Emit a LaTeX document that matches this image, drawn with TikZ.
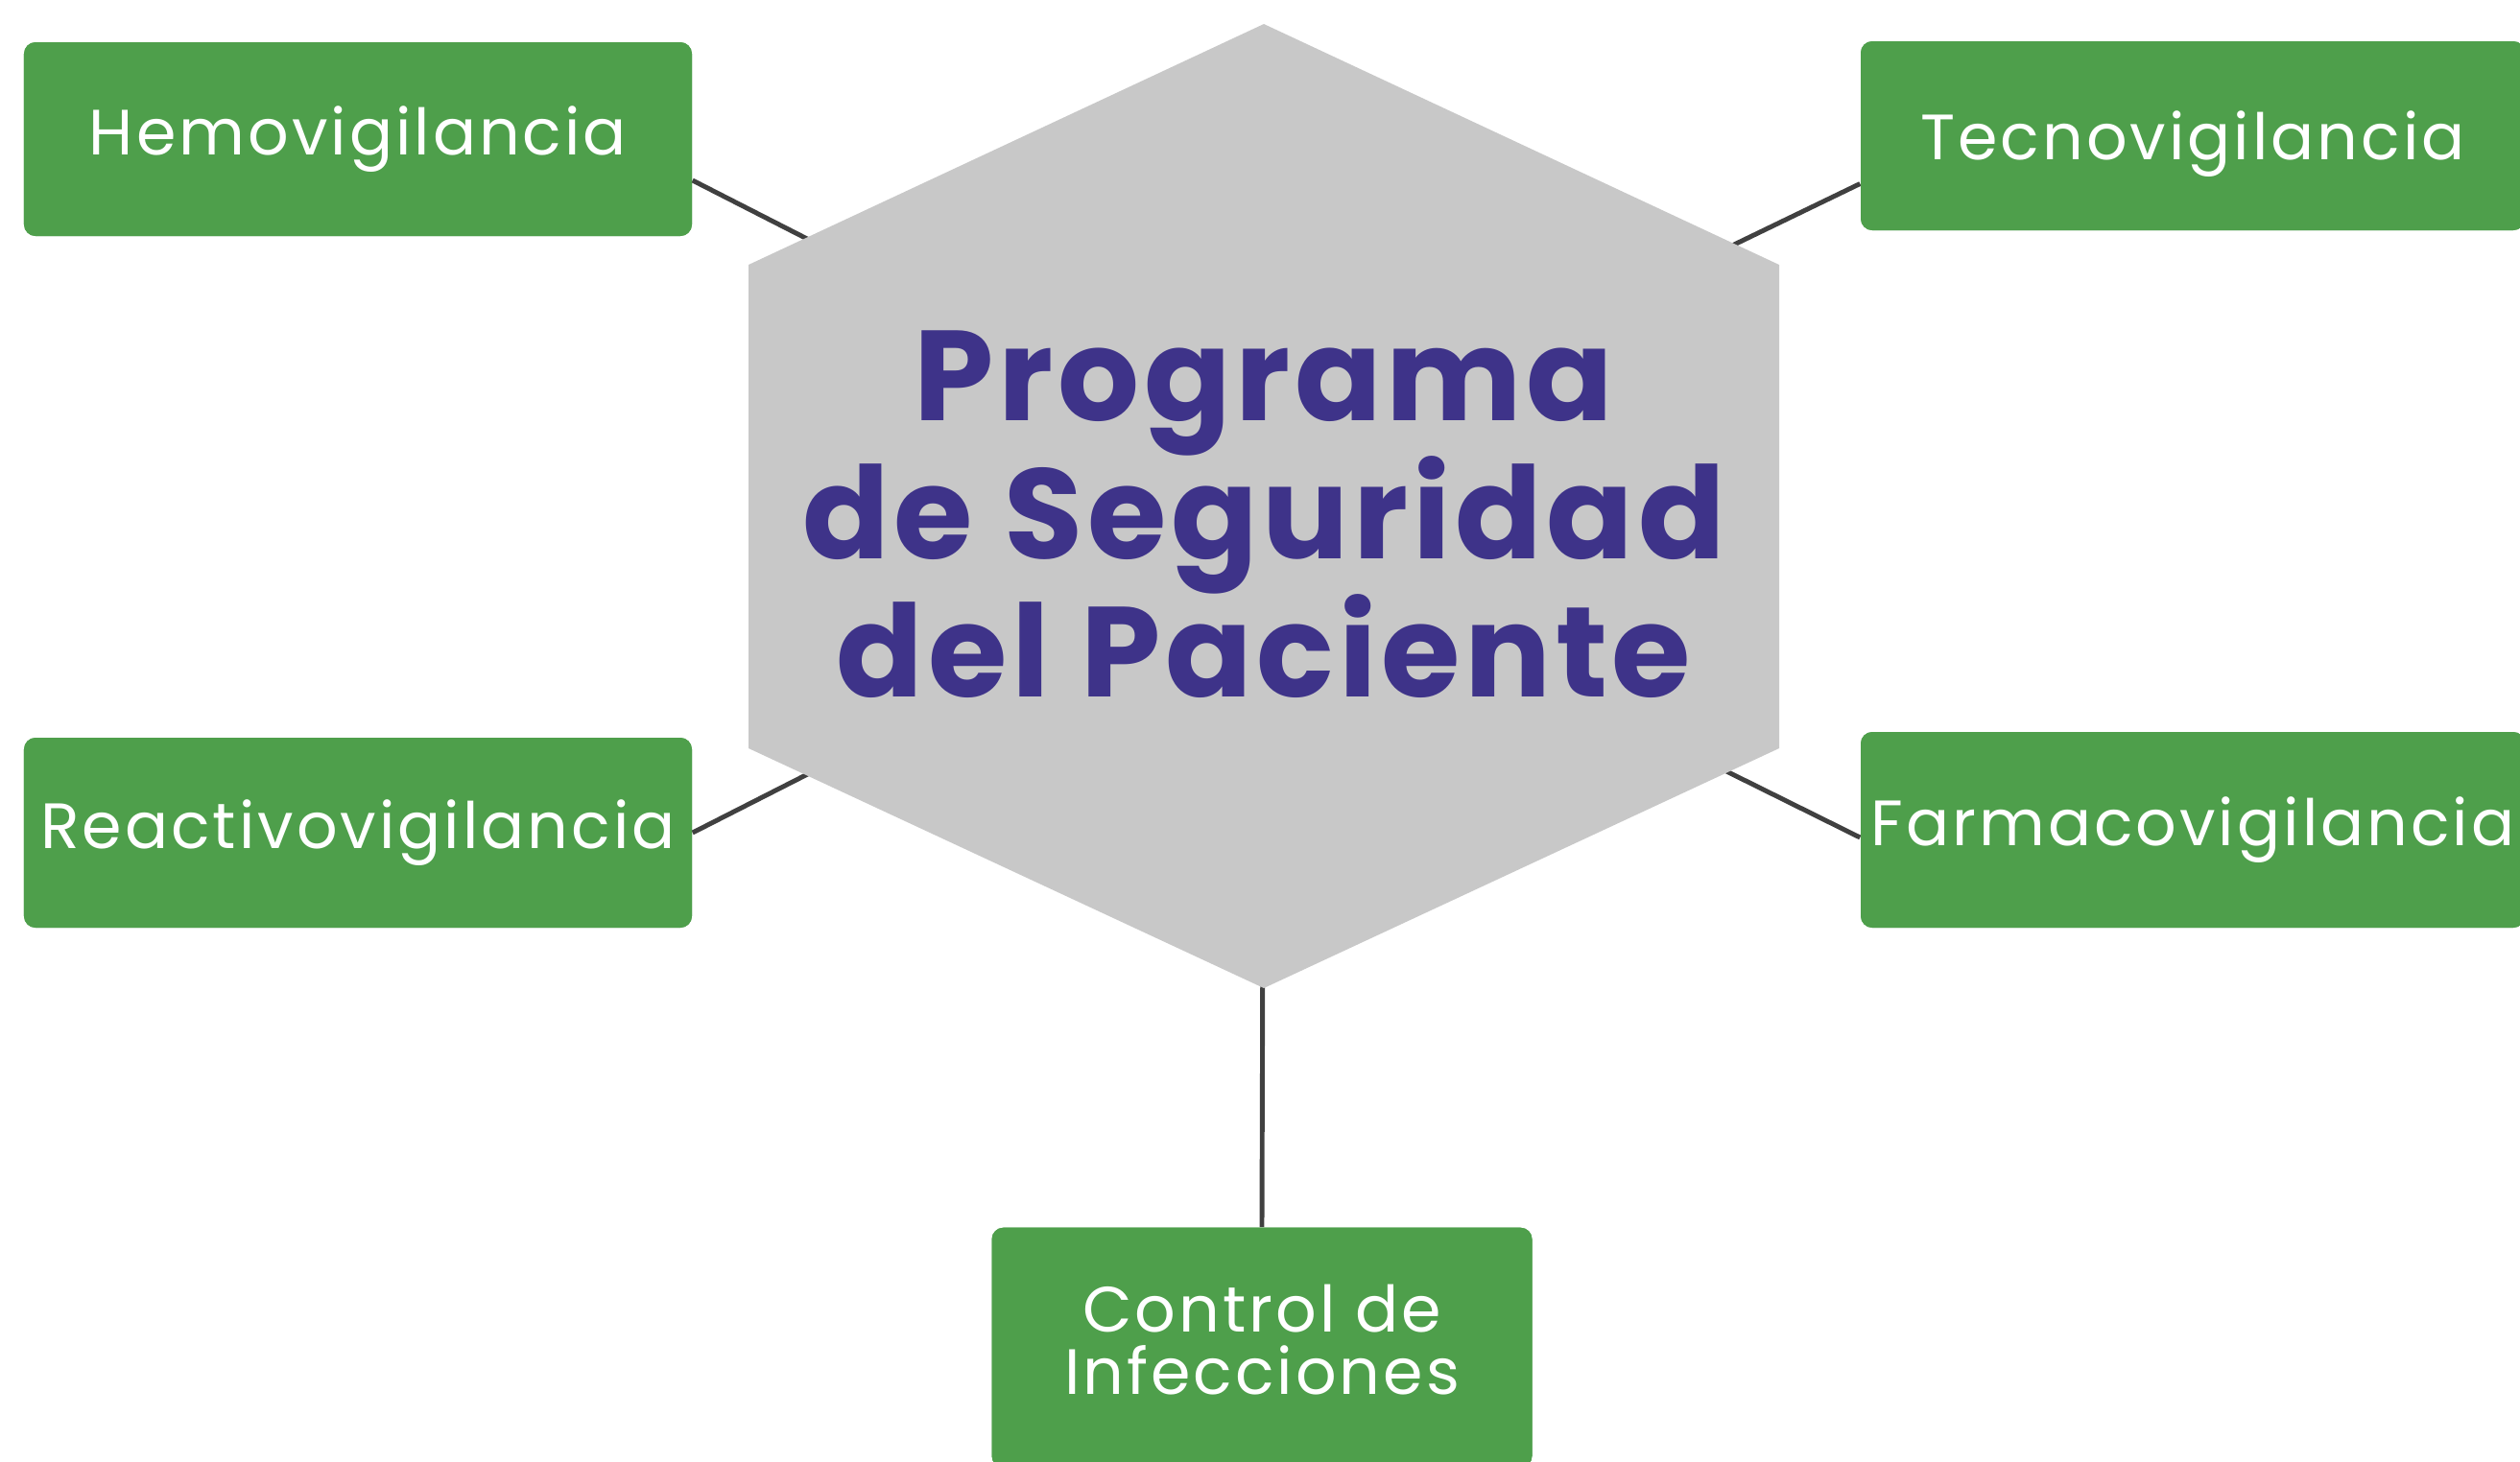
\documentclass[tikz,border=0pt]{standalone}
\usepackage{fontspec}
\setmainfont{Poppins}
\newfontfamily\boxfont{Poppins}[LetterSpace=4.5]
\newfontfamily\hexfont{Poppins}[LetterSpace=3.5]
\usetikzlibrary{positioning}
\definecolor{boxgreen}{HTML}{4E9F4B}
\definecolor{hexgray}{HTML}{C8C8C8}
\definecolor{titlepurple}{HTML}{3E3389}
\definecolor{linkgray}{HTML}{404040}

\begin{document}
\begin{tikzpicture}[
    topic/.style={rectangle, rounded corners=0.12cm, fill=boxgreen, text=white, inner xsep=0pt, minimum width=6.96cm, minimum height=2.02cm, font=\boxfont\fontsize{19}{18.5}\selectfont, align=center},
    title/.style={font=\hexfont\bfseries\fontsize{38}{41}\selectfont, text=titlepurple, align=center},
    link/.style={draw=linkgray, line width=1.4pt}
]
    \useasboundingbox (0,0) rectangle (26.26,-15.23);

    % Topics
    \node[topic] (hemo) at (3.73,-1.45) {Hemovigilancia};
    \node[topic, minimum width=6.92cm, minimum height=1.97cm, text depth=0pt] (tecno) at (22.85,-1.415) {Tecnovigilancia};
    \node[topic, minimum height=1.98cm] (react) at (3.73,-8.68) {Reactivovigilancia};
    \node[topic, minimum width=6.92cm, minimum height=2.04cm] (farma) at (22.85,-8.65) {Farmacovigilancia};
    \node[topic, minimum width=5.63cm, minimum height=2.5cm, text depth=0.16cm, anchor=north] (control) at (13.15,-12.79) {Control de\\Infecciones};

    % Links (behind the hexagon)
    \coordinate (hexA) at (13.17,-4.92);
    \coordinate (hexB) at (13.17,-5.65);
    \draw[link] ([yshift=-0.43cm]hemo.east) -- (hexA);
    \draw[link] ([yshift=-0.5cm]tecno.west) -- (hexA);
    \draw[link] (react.east) -- (hexB);
    \draw[link] ([yshift=-0.08cm]farma.west) -- (hexB);
    \draw[link] (control.north) -- (hexB);

    % Hexagon
    \fill[hexgray] (13.17,-0.25) -- (18.54,-2.76) -- (18.54,-7.80) -- (13.17,-10.30) -- (7.80,-7.80) -- (7.80,-2.76) -- cycle;
    \node[title] (prog) at (13.17,-5.36) {Programa\\de Seguridad\\del Paciente};

    % Topics on top of the links
    \node[topic] at (hemo) {Hemovigilancia};
    \node[topic, minimum width=6.92cm, minimum height=1.97cm, text depth=0pt] at (tecno) {Tecnovigilancia};
    \node[topic, minimum height=1.98cm] at (react) {Reactivovigilancia};
    \node[topic, minimum width=6.92cm, minimum height=2.04cm] at (farma) {Farmacovigilancia};
    \node[topic, minimum width=5.63cm, minimum height=2.5cm, text depth=0.16cm] at (control) {Control de\\Infecciones};
\end{tikzpicture}
\end{document}
